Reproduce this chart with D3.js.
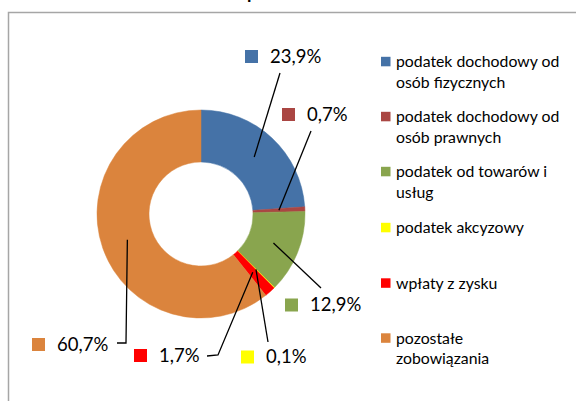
<!DOCTYPE html>
<html><head><meta charset="utf-8">
<script src="https://cdn.jsdelivr.net/npm/d3@7"></script>
<style>
html,body{margin:0;padding:0;background:#fff;}
svg{display:block;font-family:Lato,"Open Sans",sans-serif;}
</style></head>
<body>
<svg id="c" width="576" height="401"></svg>
<script>
const categories = ["podatek dochodowy od osób fizycznych","podatek dochodowy od osób prawnych","podatek od towarów i usług","podatek akcyzowy","wpłaty z zysku","pozostałe zobowiązania"];
const legendLines = [["podatek dochodowy od","osób fizycznych"],["podatek dochodowy od","osób prawnych"],["podatek od towarów i","usług"],["podatek akcyzowy"],["wpłaty z zysku"],["pozostałe","zobowiązania"]];
const values = [23.9, 0.7, 12.9, 0.1, 1.7, 60.7];
const valueLabels = ["23,9%","0,7%","12,9%","0,1%","1,7%","60,7%"];
const colors = ["#4572A7","#AA4643","#89A54E","#FFFF00","#FF0000","#DB843D"];

// layout of data labels: square left x, center y; leader path points (label side)
const labelPos = [[245,56.5],[282,114.5],[285,305],[241,357],[134,355.5],[32,344.5]];
const leaderPts = [[[280,73]],[[311,131]],[[321,288]],[[268,342]],[[207,356],[218,355]],[[117,343],[126,343]]];

const svg = d3.select("#c");
// frame
svg.append("rect").attr("x",8.5).attr("y",12.5).attr("width",620).attr("height",420)
  .attr("fill","none").attr("stroke","#A6A6A6").attr("stroke-width",1.5);
// clipped title (only descender visible in the reference)
svg.append("text").attr("x",252).attr("y",-1.5).attr("text-anchor","middle")
  .attr("font-size",18).attr("font-weight","bold").attr("fill","#000").text("p");

const cx=201, cy=214, R=104, r0=52;
const pie = d3.pie().sort(null).value(d=>d).startAngle(0).endAngle(2*Math.PI);
const arcs = pie(values);
const arc = d3.arc().innerRadius(r0).outerRadius(R);
const g = svg.append("g").attr("transform",`translate(${cx},${cy})`);
g.selectAll("path.s").data(arcs).join("path").attr("class","s")
  .attr("d",arc).attr("fill",(d,i)=>colors[i])
  .attr("stroke",(d,i)=>colors[i]).attr("stroke-width",0.5);

// leader lines
arcs.forEach((a,i)=>{
  const c = arc.centroid(a);
  const pts = leaderPts[i].concat([[c[0]+cx,c[1]+cy]]);
  svg.append("path").attr("d",d3.line()(pts)).attr("fill","none")
    .attr("stroke","#000").attr("stroke-width",1.3);
});
// data labels
valueLabels.forEach((t,i)=>{
  const [x,y]=labelPos[i];
  svg.append("rect").attr("x",x).attr("y",y-6.5).attr("width",13).attr("height",13).attr("fill",colors[i]);
  svg.append("text").attr("x",x+25).attr("y",y).attr("dy","0.35em")
    .attr("font-size",18.5).attr("fill","#000").text(t);
});
// legend
const legY=[61.5,116.5,171.5,227.5,283,338];
legendLines.forEach((lines,i)=>{
  svg.append("rect").attr("x",381).attr("y",legY[i]-4.7).attr("width",9.5).attr("height",9.5).attr("fill",colors[i]);
  const t = svg.append("text").attr("x",396).attr("y",legY[i])
    .attr("font-size",15.8).attr("fill","#000");
  lines.forEach((l,j)=>t.append("tspan").attr("x",396).attr("dy",j===0?"0.35em":"20.5").text(l));
});
</script>
</body></html>
